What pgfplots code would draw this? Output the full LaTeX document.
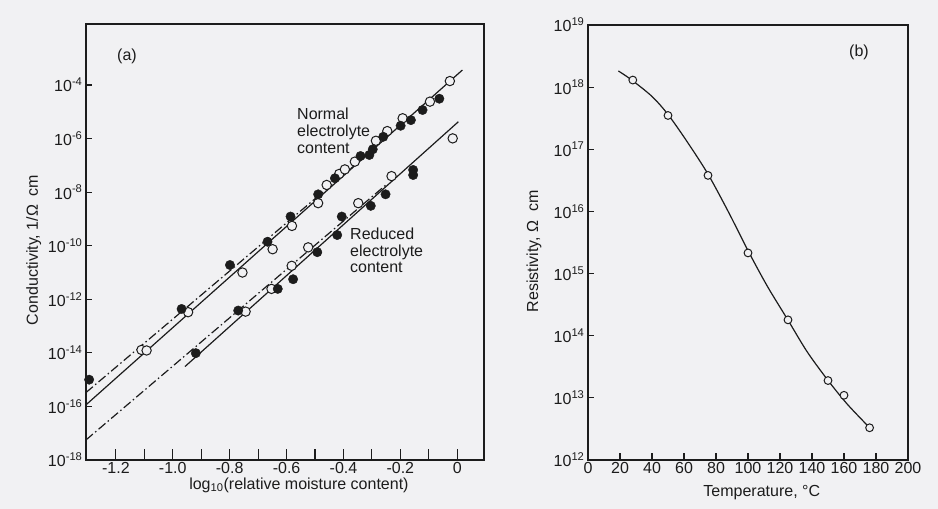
\documentclass[border=0pt]{standalone}
\usepackage{fontspec}
\setmainfont{Liberation Sans}
\usepackage{pgfplots}
\pgfplotsset{compat=1.18}

\definecolor{paper}{RGB}{241,241,243}
\definecolor{ink}{RGB}{28,28,28}

\pgfplotsset{
  scan/.style={
    scale only axis,
    axis line style={ink, line width=1.1pt},
    tick style={ink, line width=1.1pt},
    tick align=inside, tick pos=left,
    yminorticks=false,
    tick label style={font=\fontsize{16}{17}\selectfont, text=ink},
    x tick label style={inner sep=1pt, yshift=-1.5pt},
    label style={font=\fontsize{16}{17}\selectfont, text=ink},
    major tick length=6pt,
  },
  fitline/.style={ink, line width=1.2pt},
  dashdot/.style={ink, line width=1.2pt, dash pattern=on 9pt off 3pt on 1.5pt off 3pt},
  openpt/.style={only marks, mark=*, mark size=4.7pt, mark options={fill=paper, draw=ink, line width=1pt}},
  fullpt/.style={only marks, mark=*, mark size=4.7pt, mark options={fill=ink, draw=ink}},
}

\begin{document}
\begin{tikzpicture}
\fill[paper] (0,0) rectangle (938pt,-509pt);
\useasboundingbox (0,0) rectangle (938pt,-509pt);

% (a) conductivity vs moisture content
\begin{axis}[scan,
  at={(86pt,-460pt)}, anchor=south west,
  width=398pt, height=436pt,
  xmin=-1.305, xmax=0.094,
  ymode=log, ymin=1e-18, ymax=1.9e-2,
  xtick={-1.2,-1,-0.8,-0.6,-0.4,-0.2,0},
  xticklabels={-1.2,-1.0,-0.8,-0.6,-0.4,-0.2,0},
  minor xtick={-1.1,-0.9,-0.7,-0.5,-0.3,-0.1},
  xtick style={/pgfplots/major tick length=11pt, /pgfplots/minor tick length=11pt},
  ytick={1e-18,1e-16,1e-14,1e-12,1e-10,1e-8,1e-6,1e-4},
  yticklabels={10\textsuperscript{-18},10\textsuperscript{-16},10\textsuperscript{-14},10\textsuperscript{-12},10\textsuperscript{-10},10\textsuperscript{-8},10\textsuperscript{-6},10\textsuperscript{-4}},
  xlabel={log\textsubscript{10}(relative moisture content)},
  xlabel style={at={(axis description cs:0.535,0)}, anchor=base, inner sep=0pt, yshift=-29pt},
  ylabel={Conductivity, 1/Ω\ \ cm},
  ylabel style={at={(axis description cs:-0.1206,0.482)}, anchor=base},
]
% fitted lines
\addplot[fitline] coordinates {(-1.305,1.15e-16) (0.018,3.63e-4)};
\addplot[dashdot] coordinates {(-1.305,3.31e-16) (-0.30,3.55e-7)};
\addplot[fitline] coordinates {(-0.957,3.09e-15) (0.004,4.27e-6)};
\addplot[dashdot] coordinates {(-1.305,5.62e-18) (-0.25,1.9e-8)};

% normal electrolyte content
\addplot[openpt] coordinates {
  (-1.110,1.29e-14) (-1.092,1.23e-14) (-0.946,3.31e-13) (-0.755,1.0e-11)
  (-0.649,7.41e-11) (-0.581,5.5e-10) (-0.489,3.89e-9) (-0.459,1.86e-8)
  (-0.415,4.79e-8) (-0.395,7.08e-8) (-0.360,1.38e-7) (-0.286,8.32e-7)
  (-0.246,1.91e-6) (-0.192,5.75e-6) (-0.096,2.4e-5) (-0.026,1.41e-4)
};
\addplot[fullpt] coordinates {
  (-1.294,1.0e-15) (-0.969,4.37e-13) (-0.799,1.91e-11) (-0.667,1.41e-10)
  (-0.586,1.23e-9) (-0.489,8.3e-9) (-0.430,3.31e-8) (-0.340,2.24e-7)
  (-0.309,2.45e-7) (-0.297,3.98e-7) (-0.260,1.17e-6) (-0.199,3.02e-6)
  (-0.163,4.9e-6) (-0.122,1.17e-5) (-0.063,3.09e-5)
};

% reduced electrolyte content
\addplot[openpt] coordinates {
  (-0.744,3.47e-13) (-0.653,2.45e-12) (-0.582,1.78e-11) (-0.524,8.71e-11)
  (-0.348,3.89e-9) (-0.231,3.98e-8) (-0.016,1.02e-6)
};
\addplot[fullpt] coordinates {
  (-0.919,9.77e-15) (-0.770,3.8e-13) (-0.631,2.45e-12) (-0.577,5.62e-12)
  (-0.492,5.75e-11) (-0.422,2.51e-10) (-0.406,1.23e-9) (-0.304,3.09e-9)
  (-0.252,8.32e-9) (-0.155,6.76e-8) (-0.155,4.37e-8)
};
\end{axis}

% (b) resistivity vs temperature
\begin{axis}[scan,
  at={(588pt,-460pt)}, anchor=south west,
  width=320pt, height=435pt,
  xmin=0, xmax=200,
  ymode=log, ymin=1e12, ymax=1e19,
  xtick={0,20,...,200},
  xtick style={/pgfplots/major tick length=7pt},
  ytick={1e12,1e13,1e14,1e15,1e16,1e17,1e18,1e19},
  yticklabels={10\textsuperscript{12},10\textsuperscript{13},10\textsuperscript{14},10\textsuperscript{15},10\textsuperscript{16},10\textsuperscript{17},10\textsuperscript{18},10\textsuperscript{19}},
  xticklabels={0,20,40,60,80,100,120,140,160,180,200},
  xlabel={Temperature, °C},
  xlabel style={at={(axis description cs:0.543,0)}, anchor=base, inner sep=0pt, yshift=-37pt},
  ylabel={Resistivity, Ω\ \ cm},
  ylabel style={at={(axis description cs:-0.156,0.48)}, anchor=base},
]
\addplot[fitline, smooth, tension=0.5] coordinates {
  (19,1.82e18) (27,1.32e18) (40,7.08e17) (50,3.63e17) (62,1.32e17)
  (75,3.98e16) (88,9.55e15) (100,2.34e15) (112,6.31e14) (125,1.78e14)
  (137,5.50e13) (150,1.91e13) (162,7.94e12) (176,3.31e12)
};
\addplot[openpt, mark size=3.9pt] coordinates {
  (28,1.3e18) (50,3.5e17) (75,3.8e16) (100,2.15e15) (125,1.8e14)
  (150,1.9e13) (160,1.1e13) (176,3.3e12)
};
\end{axis}

\node[font=\fontsize{16}{17}\selectfont, text=ink] at (127pt,-56pt) {(a)};
\node[font=\fontsize{16}{17}\selectfont, text=ink] at (859pt,-52pt) {(b)};
\node[font=\fontsize{16}{17}\selectfont, text=ink, align=left, anchor=north west, inner sep=0pt]
  at (297pt,-108pt) {Normal\\electrolyte\\content};
\node[font=\fontsize{16}{16.5}\selectfont, text=ink, align=left, anchor=north west, inner sep=0pt]
  at (350pt,-228pt) {Reduced\\electrolyte\\content};
\end{tikzpicture}
\end{document}
